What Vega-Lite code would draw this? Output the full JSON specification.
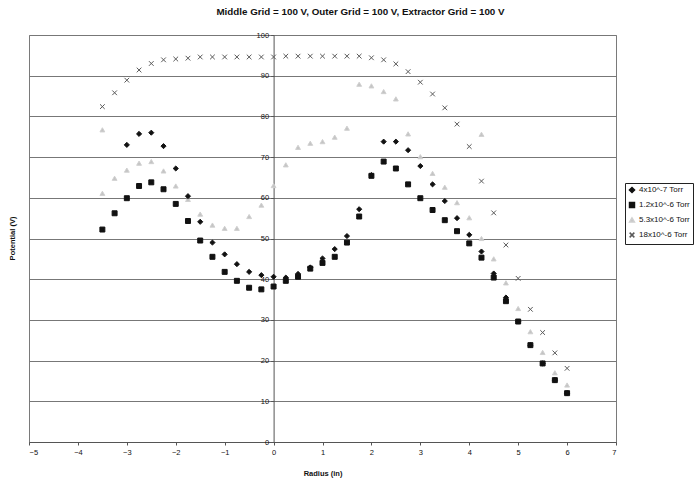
{
  "$schema": "https://vega.github.io/schema/vega-lite/v6.json",
  "autosize": "none",
  "width": 587,
  "height": 407,
  "padding": {"left": 29, "top": 35, "right": 84, "bottom": 37},
  "background": "white",
  "config": {
    "font": "Liberation Sans",
    "view": {"stroke": "#7a7a7a", "strokeWidth": 1}
  },
  "title": {
    "text": "Middle Grid = 100 V, Outer Grid = 100 V, Extractor Grid = 100 V",
    "fontSize": 9.8,
    "fontWeight": "bold",
    "font": "Liberation Sans",
    "color": "#111",
    "anchor": "middle",
    "offset": 14,
    "dx": 38
  },
  "data": {
    "values": [
      {"Radius": -3.5, "Potential": 82.4, "Series": "18x10^-6 Torr"},
      {"Radius": -3.25, "Potential": 85.8, "Series": "18x10^-6 Torr"},
      {"Radius": -3.0, "Potential": 88.9, "Series": "18x10^-6 Torr"},
      {"Radius": -2.75, "Potential": 91.4, "Series": "18x10^-6 Torr"},
      {"Radius": -2.5, "Potential": 93.0, "Series": "18x10^-6 Torr"},
      {"Radius": -2.25, "Potential": 93.9, "Series": "18x10^-6 Torr"},
      {"Radius": -2.0, "Potential": 94.1, "Series": "18x10^-6 Torr"},
      {"Radius": -1.75, "Potential": 94.3, "Series": "18x10^-6 Torr"},
      {"Radius": -1.5, "Potential": 94.6, "Series": "18x10^-6 Torr"},
      {"Radius": -1.25, "Potential": 94.6, "Series": "18x10^-6 Torr"},
      {"Radius": -1.0, "Potential": 94.6, "Series": "18x10^-6 Torr"},
      {"Radius": -0.75, "Potential": 94.6, "Series": "18x10^-6 Torr"},
      {"Radius": -0.5, "Potential": 94.6, "Series": "18x10^-6 Torr"},
      {"Radius": -0.25, "Potential": 94.6, "Series": "18x10^-6 Torr"},
      {"Radius": 0.0, "Potential": 94.6, "Series": "18x10^-6 Torr"},
      {"Radius": 0.25, "Potential": 94.8, "Series": "18x10^-6 Torr"},
      {"Radius": 0.5, "Potential": 94.8, "Series": "18x10^-6 Torr"},
      {"Radius": 0.75, "Potential": 94.8, "Series": "18x10^-6 Torr"},
      {"Radius": 1.0, "Potential": 94.8, "Series": "18x10^-6 Torr"},
      {"Radius": 1.25, "Potential": 94.8, "Series": "18x10^-6 Torr"},
      {"Radius": 1.5, "Potential": 94.8, "Series": "18x10^-6 Torr"},
      {"Radius": 1.75, "Potential": 94.8, "Series": "18x10^-6 Torr"},
      {"Radius": 2.0, "Potential": 94.4, "Series": "18x10^-6 Torr"},
      {"Radius": 2.25, "Potential": 93.9, "Series": "18x10^-6 Torr"},
      {"Radius": 2.5, "Potential": 92.9, "Series": "18x10^-6 Torr"},
      {"Radius": 2.75, "Potential": 91.0, "Series": "18x10^-6 Torr"},
      {"Radius": 3.0, "Potential": 88.4, "Series": "18x10^-6 Torr"},
      {"Radius": 3.25, "Potential": 85.5, "Series": "18x10^-6 Torr"},
      {"Radius": 3.5, "Potential": 82.1, "Series": "18x10^-6 Torr"},
      {"Radius": 3.75, "Potential": 78.1, "Series": "18x10^-6 Torr"},
      {"Radius": 4.0, "Potential": 72.6, "Series": "18x10^-6 Torr"},
      {"Radius": 4.25, "Potential": 64.1, "Series": "18x10^-6 Torr"},
      {"Radius": 4.5, "Potential": 56.3, "Series": "18x10^-6 Torr"},
      {"Radius": 4.75, "Potential": 48.4, "Series": "18x10^-6 Torr"},
      {"Radius": 5.0, "Potential": 40.2, "Series": "18x10^-6 Torr"},
      {"Radius": 5.25, "Potential": 32.6, "Series": "18x10^-6 Torr"},
      {"Radius": 5.5, "Potential": 26.9, "Series": "18x10^-6 Torr"},
      {"Radius": 5.75, "Potential": 21.9, "Series": "18x10^-6 Torr"},
      {"Radius": 6.0, "Potential": 18.1, "Series": "18x10^-6 Torr"},

      {"Radius": -3.5, "Potential": 76.7, "Series": "5.3x10^-6 Torr"},
      {"Radius": -3.5, "Potential": 61.1, "Series": "5.3x10^-6 Torr"},
      {"Radius": -3.25, "Potential": 64.8, "Series": "5.3x10^-6 Torr"},
      {"Radius": -3.0, "Potential": 66.8, "Series": "5.3x10^-6 Torr"},
      {"Radius": -2.75, "Potential": 68.5, "Series": "5.3x10^-6 Torr"},
      {"Radius": -2.5, "Potential": 68.9, "Series": "5.3x10^-6 Torr"},
      {"Radius": -2.25, "Potential": 66.6, "Series": "5.3x10^-6 Torr"},
      {"Radius": -2.0, "Potential": 62.9, "Series": "5.3x10^-6 Torr"},
      {"Radius": -1.75, "Potential": 59.6, "Series": "5.3x10^-6 Torr"},
      {"Radius": -1.5, "Potential": 56.0, "Series": "5.3x10^-6 Torr"},
      {"Radius": -1.25, "Potential": 53.3, "Series": "5.3x10^-6 Torr"},
      {"Radius": -1.0, "Potential": 52.5, "Series": "5.3x10^-6 Torr"},
      {"Radius": -0.75, "Potential": 52.5, "Series": "5.3x10^-6 Torr"},
      {"Radius": -0.5, "Potential": 55.4, "Series": "5.3x10^-6 Torr"},
      {"Radius": -0.25, "Potential": 58.2, "Series": "5.3x10^-6 Torr"},
      {"Radius": 0.0, "Potential": 63.0, "Series": "5.3x10^-6 Torr"},
      {"Radius": 0.25, "Potential": 68.1, "Series": "5.3x10^-6 Torr"},
      {"Radius": 0.5, "Potential": 72.4, "Series": "5.3x10^-6 Torr"},
      {"Radius": 0.75, "Potential": 73.4, "Series": "5.3x10^-6 Torr"},
      {"Radius": 1.0, "Potential": 73.8, "Series": "5.3x10^-6 Torr"},
      {"Radius": 1.25, "Potential": 74.9, "Series": "5.3x10^-6 Torr"},
      {"Radius": 1.5, "Potential": 77.1, "Series": "5.3x10^-6 Torr"},
      {"Radius": 1.75, "Potential": 87.9, "Series": "5.3x10^-6 Torr"},
      {"Radius": 2.0, "Potential": 87.5, "Series": "5.3x10^-6 Torr"},
      {"Radius": 2.25, "Potential": 86.1, "Series": "5.3x10^-6 Torr"},
      {"Radius": 2.5, "Potential": 84.3, "Series": "5.3x10^-6 Torr"},
      {"Radius": 2.75, "Potential": 75.7, "Series": "5.3x10^-6 Torr"},
      {"Radius": 3.0, "Potential": 70.1, "Series": "5.3x10^-6 Torr"},
      {"Radius": 3.25, "Potential": 66.0, "Series": "5.3x10^-6 Torr"},
      {"Radius": 3.5, "Potential": 62.6, "Series": "5.3x10^-6 Torr"},
      {"Radius": 3.75, "Potential": 58.8, "Series": "5.3x10^-6 Torr"},
      {"Radius": 4.0, "Potential": 55.1, "Series": "5.3x10^-6 Torr"},
      {"Radius": 4.25, "Potential": 75.6, "Series": "5.3x10^-6 Torr"},
      {"Radius": 4.25, "Potential": 50.0, "Series": "5.3x10^-6 Torr"},
      {"Radius": 4.5, "Potential": 45.0, "Series": "5.3x10^-6 Torr"},
      {"Radius": 4.75, "Potential": 39.1, "Series": "5.3x10^-6 Torr"},
      {"Radius": 5.0, "Potential": 32.8, "Series": "5.3x10^-6 Torr"},
      {"Radius": 5.25, "Potential": 27.1, "Series": "5.3x10^-6 Torr"},
      {"Radius": 5.5, "Potential": 22.0, "Series": "5.3x10^-6 Torr"},
      {"Radius": 5.75, "Potential": 17.0, "Series": "5.3x10^-6 Torr"},
      {"Radius": 6.0, "Potential": 14.0, "Series": "5.3x10^-6 Torr"},

      {"Radius": -3.5, "Potential": 52.2, "Series": "1.2x10^-6 Torr"},
      {"Radius": -3.25, "Potential": 56.2, "Series": "1.2x10^-6 Torr"},
      {"Radius": -3.0, "Potential": 59.9, "Series": "1.2x10^-6 Torr"},
      {"Radius": -2.75, "Potential": 62.9, "Series": "1.2x10^-6 Torr"},
      {"Radius": -2.5, "Potential": 63.8, "Series": "1.2x10^-6 Torr"},
      {"Radius": -2.25, "Potential": 62.1, "Series": "1.2x10^-6 Torr"},
      {"Radius": -2.0, "Potential": 58.5, "Series": "1.2x10^-6 Torr"},
      {"Radius": -1.75, "Potential": 54.3, "Series": "1.2x10^-6 Torr"},
      {"Radius": -1.5, "Potential": 49.5, "Series": "1.2x10^-6 Torr"},
      {"Radius": -1.25, "Potential": 45.5, "Series": "1.2x10^-6 Torr"},
      {"Radius": -1.0, "Potential": 41.8, "Series": "1.2x10^-6 Torr"},
      {"Radius": -0.75, "Potential": 39.6, "Series": "1.2x10^-6 Torr"},
      {"Radius": -0.5, "Potential": 37.9, "Series": "1.2x10^-6 Torr"},
      {"Radius": -0.25, "Potential": 37.5, "Series": "1.2x10^-6 Torr"},
      {"Radius": 0.0, "Potential": 38.2, "Series": "1.2x10^-6 Torr"},
      {"Radius": 0.25, "Potential": 39.6, "Series": "1.2x10^-6 Torr"},
      {"Radius": 0.5, "Potential": 40.6, "Series": "1.2x10^-6 Torr"},
      {"Radius": 0.75, "Potential": 42.6, "Series": "1.2x10^-6 Torr"},
      {"Radius": 1.0, "Potential": 44.0, "Series": "1.2x10^-6 Torr"},
      {"Radius": 1.25, "Potential": 45.5, "Series": "1.2x10^-6 Torr"},
      {"Radius": 1.5, "Potential": 49.0, "Series": "1.2x10^-6 Torr"},
      {"Radius": 1.75, "Potential": 55.4, "Series": "1.2x10^-6 Torr"},
      {"Radius": 2.0, "Potential": 65.4, "Series": "1.2x10^-6 Torr"},
      {"Radius": 2.25, "Potential": 68.9, "Series": "1.2x10^-6 Torr"},
      {"Radius": 2.5, "Potential": 67.2, "Series": "1.2x10^-6 Torr"},
      {"Radius": 2.75, "Potential": 63.3, "Series": "1.2x10^-6 Torr"},
      {"Radius": 3.0, "Potential": 59.9, "Series": "1.2x10^-6 Torr"},
      {"Radius": 3.25, "Potential": 57.0, "Series": "1.2x10^-6 Torr"},
      {"Radius": 3.5, "Potential": 54.5, "Series": "1.2x10^-6 Torr"},
      {"Radius": 3.75, "Potential": 51.8, "Series": "1.2x10^-6 Torr"},
      {"Radius": 4.0, "Potential": 48.8, "Series": "1.2x10^-6 Torr"},
      {"Radius": 4.25, "Potential": 45.3, "Series": "1.2x10^-6 Torr"},
      {"Radius": 4.5, "Potential": 40.4, "Series": "1.2x10^-6 Torr"},
      {"Radius": 4.75, "Potential": 34.6, "Series": "1.2x10^-6 Torr"},
      {"Radius": 5.0, "Potential": 29.6, "Series": "1.2x10^-6 Torr"},
      {"Radius": 5.25, "Potential": 23.8, "Series": "1.2x10^-6 Torr"},
      {"Radius": 5.5, "Potential": 19.3, "Series": "1.2x10^-6 Torr"},
      {"Radius": 5.75, "Potential": 15.2, "Series": "1.2x10^-6 Torr"},
      {"Radius": 6.0, "Potential": 12.0, "Series": "1.2x10^-6 Torr"},

      {"Radius": -3.0, "Potential": 73.0, "Series": "4x10^-7 Torr"},
      {"Radius": -2.75, "Potential": 75.7, "Series": "4x10^-7 Torr"},
      {"Radius": -2.5, "Potential": 76.0, "Series": "4x10^-7 Torr"},
      {"Radius": -2.25, "Potential": 72.7, "Series": "4x10^-7 Torr"},
      {"Radius": -2.0, "Potential": 67.2, "Series": "4x10^-7 Torr"},
      {"Radius": -1.75, "Potential": 60.4, "Series": "4x10^-7 Torr"},
      {"Radius": -1.5, "Potential": 54.1, "Series": "4x10^-7 Torr"},
      {"Radius": -1.25, "Potential": 49.0, "Series": "4x10^-7 Torr"},
      {"Radius": -1.0, "Potential": 46.1, "Series": "4x10^-7 Torr"},
      {"Radius": -0.75, "Potential": 43.7, "Series": "4x10^-7 Torr"},
      {"Radius": -0.5, "Potential": 41.8, "Series": "4x10^-7 Torr"},
      {"Radius": -0.25, "Potential": 41.0, "Series": "4x10^-7 Torr"},
      {"Radius": 0.0, "Potential": 40.6, "Series": "4x10^-7 Torr"},
      {"Radius": 0.25, "Potential": 40.4, "Series": "4x10^-7 Torr"},
      {"Radius": 0.5, "Potential": 41.3, "Series": "4x10^-7 Torr"},
      {"Radius": 0.75, "Potential": 42.9, "Series": "4x10^-7 Torr"},
      {"Radius": 1.0, "Potential": 45.1, "Series": "4x10^-7 Torr"},
      {"Radius": 1.25, "Potential": 47.4, "Series": "4x10^-7 Torr"},
      {"Radius": 1.5, "Potential": 50.6, "Series": "4x10^-7 Torr"},
      {"Radius": 1.75, "Potential": 57.2, "Series": "4x10^-7 Torr"},
      {"Radius": 2.0, "Potential": 65.6, "Series": "4x10^-7 Torr"},
      {"Radius": 2.25, "Potential": 73.8, "Series": "4x10^-7 Torr"},
      {"Radius": 2.5, "Potential": 73.8, "Series": "4x10^-7 Torr"},
      {"Radius": 2.75, "Potential": 71.7, "Series": "4x10^-7 Torr"},
      {"Radius": 3.0, "Potential": 67.8, "Series": "4x10^-7 Torr"},
      {"Radius": 3.25, "Potential": 63.3, "Series": "4x10^-7 Torr"},
      {"Radius": 3.5, "Potential": 59.2, "Series": "4x10^-7 Torr"},
      {"Radius": 3.75, "Potential": 55.0, "Series": "4x10^-7 Torr"},
      {"Radius": 4.0, "Potential": 50.9, "Series": "4x10^-7 Torr"},
      {"Radius": 4.25, "Potential": 46.8, "Series": "4x10^-7 Torr"},
      {"Radius": 4.5, "Potential": 41.4, "Series": "4x10^-7 Torr"},
      {"Radius": 4.75, "Potential": 35.5, "Series": "4x10^-7 Torr"},
      {"Radius": 5.0, "Potential": 29.6, "Series": "4x10^-7 Torr"},
      {"Radius": 5.25, "Potential": 23.8, "Series": "4x10^-7 Torr"},
      {"Radius": 5.5, "Potential": 19.3, "Series": "4x10^-7 Torr"},
      {"Radius": 5.75, "Potential": 15.2, "Series": "4x10^-7 Torr"},
      {"Radius": 6.0, "Potential": 12.0, "Series": "4x10^-7 Torr"}
    ]
  },
  "mark": {"type": "point", "filled": true, "opacity": 1, "strokeWidth": 1},
  "encoding": {
    "x": {
      "field": "Radius",
      "type": "quantitative",
      "scale": {"domain": [-5, 7], "nice": false, "zero": false},
      "axis": {
        "title": "Radius (in)",
        "values": [-5, -4, -3, -2, -1, 0, 1, 2, 3, 4, 5, 6, 7],
        "grid": false,
        "domainColor": "#555",
        "tickColor": "#555",
        "tickSize": 3,
        "labelFontSize": 7.5,
        "labelColor": "#111",
        "labelPadding": 3,
        "titleFontSize": 7.5,
        "titleFontWeight": "bold",
        "titleColor": "#111",
        "titlePadding": 14
      }
    },
    "y": {
      "field": "Potential",
      "type": "quantitative",
      "scale": {"domain": [0, 100], "nice": false},
      "axis": {
        "title": "Potential (V)",
        "offset": -244.6,
        "values": [0, 10, 20, 30, 40, 50, 60, 70, 80, 90, 100],
        "grid": true,
        "gridColor": "#777777",
        "gridWidth": 1.2,
        "gridOpacity": 1,
        "domainColor": "#555",
        "tickColor": "#555",
        "tickSize": 3,
        "labelFontSize": 7.5,
        "labelColor": "#111",
        "labelPadding": 2,
        "titleFontSize": 7.5,
        "titleFontWeight": "bold",
        "titleColor": "#111",
        "titleX": -261.6,
        "titleY": 203,
        "titleAngle": -90,
        "titleAlign": "center",
        "titleBaseline": "middle"
      }
    },
    "shape": {
      "field": "Series",
      "type": "nominal",
      "scale": {
        "domain": ["4x10^-7 Torr", "1.2x10^-6 Torr", "5.3x10^-6 Torr", "18x10^-6 Torr"],
        "range": ["diamond", "square", "triangle-up", "M-1,-1L1,1M1,-1L-1,1"]
      },
      "legend": {
        "title": null,
        "orient": "none",
        "legendX": 596,
        "legendY": 148,
        "strokeColor": "#222",
        "padding": 3,
        "labelFontSize": 8,
        "labelColor": "#111",
        "rowPadding": 3,
        "labelOffset": 3
      }
    },
    "fill": {
      "field": "Series",
      "type": "nominal",
      "scale": {
        "domain": ["4x10^-7 Torr", "1.2x10^-6 Torr", "5.3x10^-6 Torr", "18x10^-6 Torr"],
        "range": ["#111111", "#111111", "#c4c4c4", "#5a5a5a"]
      }
    },
    "stroke": {
      "field": "Series",
      "type": "nominal",
      "scale": {
        "domain": ["4x10^-7 Torr", "1.2x10^-6 Torr", "5.3x10^-6 Torr", "18x10^-6 Torr"],
        "range": ["#111111", "#111111", "#d0d0d0", "#5a5a5a"]
      }
    },
    "size": {
      "field": "Series",
      "type": "nominal",
      "scale": {
        "domain": ["4x10^-7 Torr", "1.2x10^-6 Torr", "5.3x10^-6 Torr", "18x10^-6 Torr"],
        "range": [26, 22, 8, 28]
      }
    }
  }
}
